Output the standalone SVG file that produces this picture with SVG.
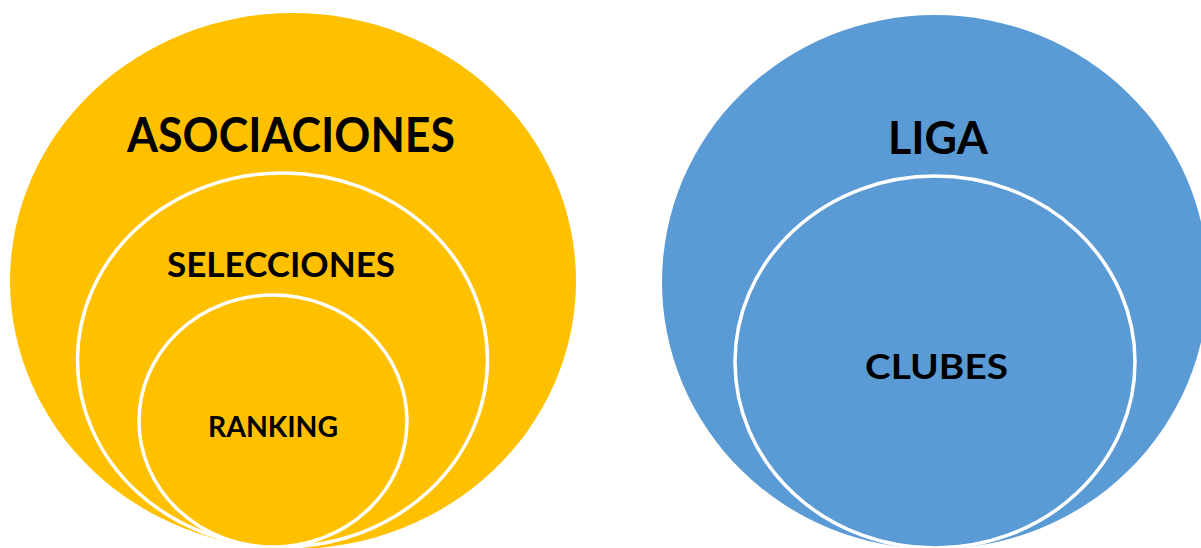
<svg xmlns="http://www.w3.org/2000/svg" width="1201" height="548" viewBox="0 0 1201 548">
  <style>
    .yellow { fill: #FFC000; }
    .blue { fill: #5B9BD5; }
    .ring { stroke: #FFFFFF; stroke-width: 3.5; }
    .lbl { font-family: Lato, "Open Sans", "Liberation Sans", sans-serif; font-weight: bold; fill: #000000; }
  </style>
  <rect width="1201" height="548" fill="#FFFFFF"/>
  <g id="asociaciones">
    <ellipse class="yellow" cx="293" cy="281" rx="283" ry="268"/>
    <text class="lbl" x="127" y="152" font-size="47.5" textLength="328" lengthAdjust="spacingAndGlyphs">ASOCIACIONES</text>
  </g>
  <g id="selecciones">
    <ellipse class="yellow ring" cx="282.5" cy="360" rx="205" ry="187"/>
    <text class="lbl" x="167" y="277" font-size="33.5" textLength="228" lengthAdjust="spacingAndGlyphs">SELECCIONES</text>
  </g>
  <g id="ranking">
    <ellipse class="yellow ring" cx="273" cy="421" rx="134" ry="126"/>
    <text class="lbl" x="208" y="437" font-size="28" textLength="130" lengthAdjust="spacingAndGlyphs">RANKING</text>
  </g>
  <g id="liga">
    <ellipse class="blue" cx="935" cy="282" rx="273" ry="267"/>
    <text class="lbl" x="888" y="154" font-size="45" textLength="100" lengthAdjust="spacingAndGlyphs">LIGA</text>
  </g>
  <g id="clubes">
    <ellipse class="blue ring" cx="935" cy="362" rx="200" ry="186"/>
    <text class="lbl" x="865" y="379" font-size="35" textLength="143" lengthAdjust="spacingAndGlyphs">CLUBES</text>
  </g>
  <g id="connectors"/>
</svg>
